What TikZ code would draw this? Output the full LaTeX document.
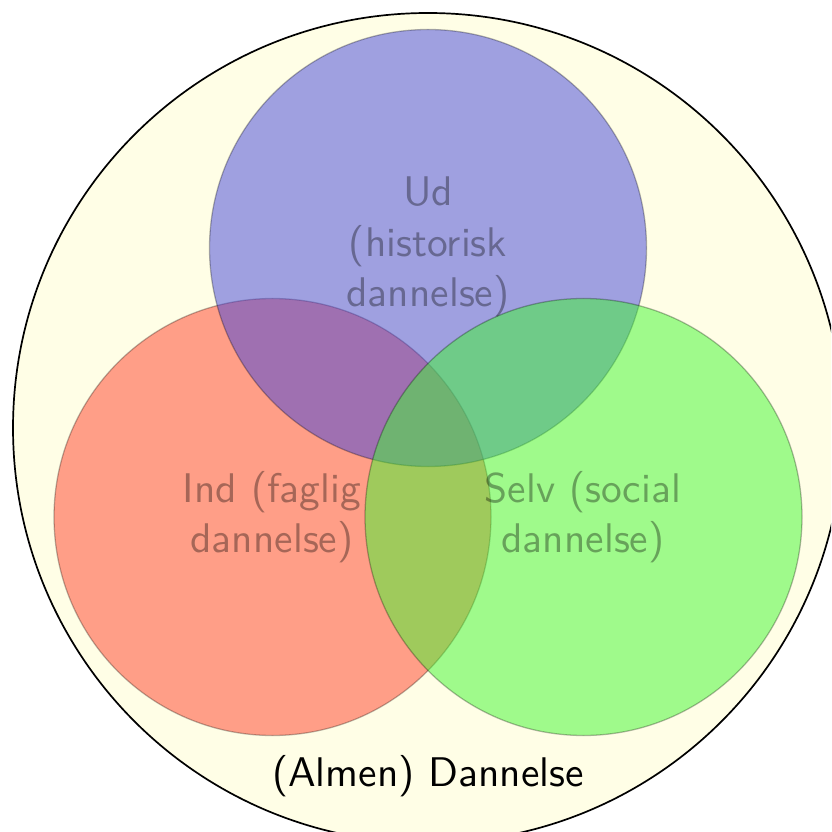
\documentclass[tikz,border=0pt]{standalone}
\definecolor{bigfill}{RGB}{255,254,230}
\definecolor{cred}{RGB}{255,63,42}
\definecolor{cblue}{RGB}{65,67,220}
\definecolor{cgreen}{RGB}{65,247,50}
\begin{document}
\begin{tikzpicture}[x=0.2353pt,y=-0.2353pt,
  setc/.style={circle, minimum size=102.83pt, inner sep=0pt, fill opacity=0.5, draw=black, draw opacity=0.28, line width=0.3pt},
  settext/.style={font=\fontsize{9.75}{11.9}\selectfont\sffamily, text=black, text opacity=0.35, align=center, inner sep=0pt},
  alltext/.style={font=\fontsize{9.75}{11.9}\selectfont\sffamily, text=black, inner sep=0pt}]
\useasboundingbox (0,0) rectangle (831,832);
\begin{scope}
\clip (0,0) rectangle (831,832);
\node[circle, minimum size=195.3pt, inner sep=0pt, fill=bigfill, draw=black, line width=0.4pt] (U) at (428,428) {};
\node[setc, fill=cred] (R) at (272.5,517) {};
\node[setc, fill=cblue] (B) at (428,248) {};
\node[setc, fill=cgreen] (G) at (583.5,517) {};
\end{scope}
\node[settext] (tB) at (428,247) {Ud\\(historisk\\dannelse)};
\node[settext] (tR) at (272,517) {Ind (faglig\\dannelse)};
\node[settext] (tG) at (583,517) {Selv (social\\dannelse)};
\node[alltext, anchor=base] (tU) at (428,786) {(Almen) Dannelse};
\end{tikzpicture}
\end{document}
